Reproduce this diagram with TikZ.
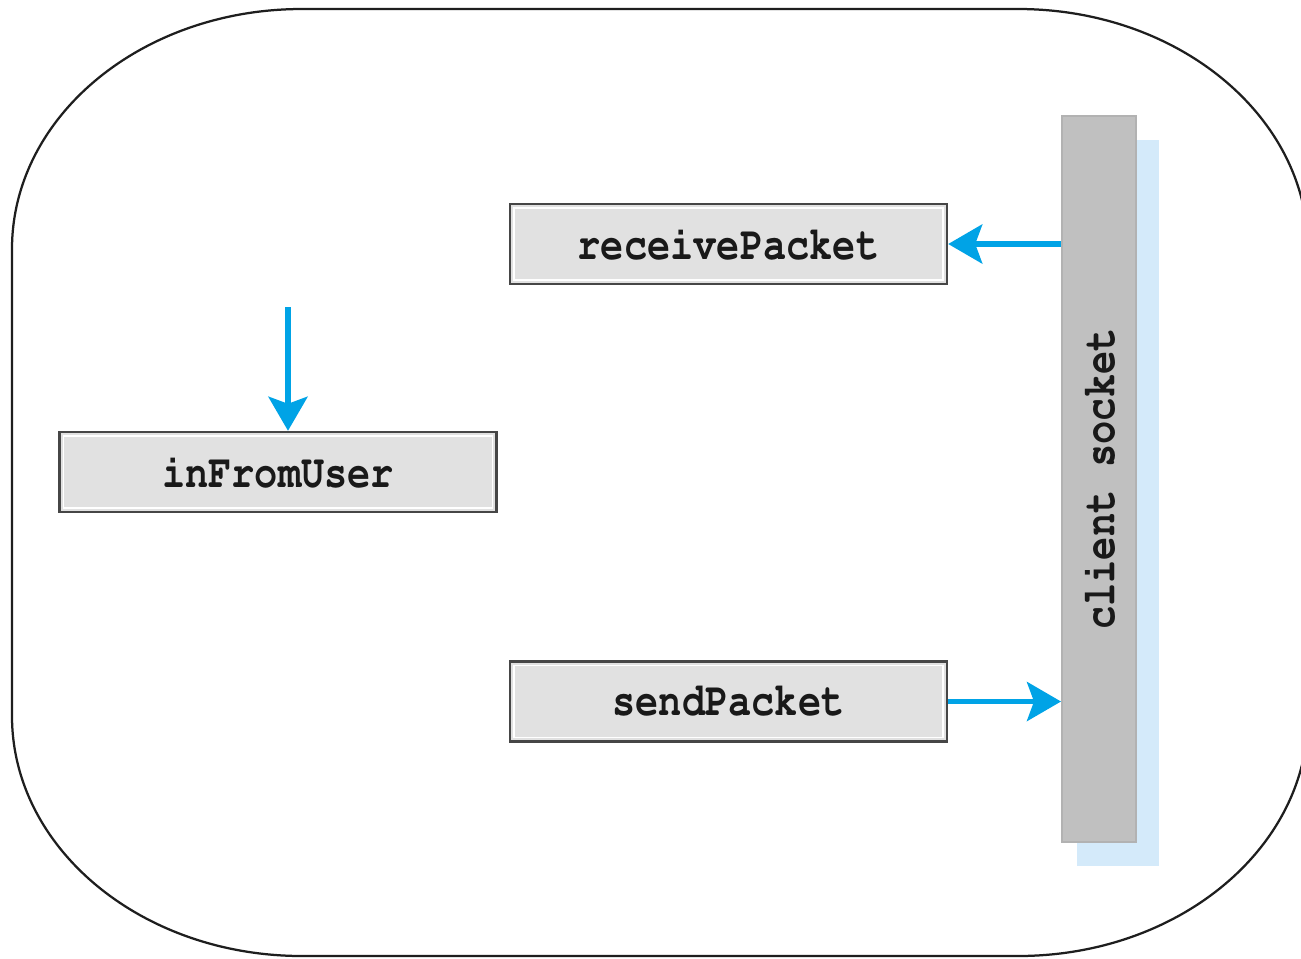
\documentclass[tikz,border=0pt]{standalone}
\usepackage[T1]{fontenc}
\usetikzlibrary{arrows.meta}

\definecolor{outline}{RGB}{30,30,30}
\definecolor{boxfill}{RGB}{225,225,225}
\definecolor{boxedge}{RGB}{70,70,70}
\definecolor{barfill}{RGB}{192,192,192}
\definecolor{baredge}{RGB}{178,178,178}
\definecolor{barshade}{RGB}{212,234,250}
\definecolor{flow}{RGB}{0,163,230}
\definecolor{ink}{RGB}{25,25,25}

\newcommand{\codestyle}{\fontfamily{pcr}\bfseries\fontsize{22}{26}\selectfont}
\newcommand{\codetext}[1]{\scalebox{1}[1.22]{#1}}

\tikzset{
  streambox/.style={
    draw=boxedge, line width=0.05cm, fill=boxfill,
    minimum width=8.74cm, minimum height=1.6cm, inner sep=0pt,
    font=\codestyle, text=ink,
    path picture={
      \draw[white, line width=0.035cm]
        ([shift={(0.08cm,-0.08cm)}]path picture bounding box.north west)
        rectangle
        ([shift={(-0.08cm,0.08cm)}]path picture bounding box.south east);
    }
  },
  socketbar/.style={
    draw=baredge, line width=0.04cm, fill=barfill,
    minimum width=1.48cm, minimum height=14.52cm, inner sep=0pt,
    font=\codestyle, text=ink
  },
  flowarrow/.style={
    draw=flow, line width=0.11cm,
    -{Stealth[length=0.68cm, width=0.78cm, inset=0.14cm]}
  }
}

\begin{document}
\begin{tikzpicture}[x=0.02cm, y=-0.02cm]
  \useasboundingbox (0,0) rectangle (1301,958);
  \clip (0,0) rectangle (1301,958);
  \fill[white] (0,0) rectangle (1301,958);

  % process outline with elliptic corners
  \draw[outline, line width=0.045cm]
    (302,9) -- (1018,9)
    .. controls (1178.2,9) and (1308,116.4) .. (1308,249)
    -- (1308,716)
    .. controls (1308,848.6) and (1178.2,956) .. (1018,956)
    -- (302,956)
    .. controls (141.8,956) and (12,848.6) .. (12,716)
    -- (12,249)
    .. controls (12,116.4) and (141.8,9) .. cycle;

  % socket with its shade
  \fill[barshade] (1077,140) rectangle (1159,866);
  \node[socketbar] (sock) at (1099,479) {\rotatebox{90}{\codetext{client socket}}};

  % streams
  \node[streambox] (rp)  at (728.5,244)   {\codetext{receivePacket}};
  \node[streambox] (ifu) at (278,472)     {\codetext{inFromUser}};
  \node[streambox] (sp)  at (728.5,701.5) {\codetext{sendPacket}};

  \coordinate (user) at (288,307);

  % data flow
  \draw[flowarrow] (sock.west |- rp.east) -- (rp.east);
  \draw[flowarrow] (sp.east) -- (sock.west |- sp.east);
  \draw[flowarrow] (user) -- (user |- ifu.north);
\end{tikzpicture}
\end{document}
